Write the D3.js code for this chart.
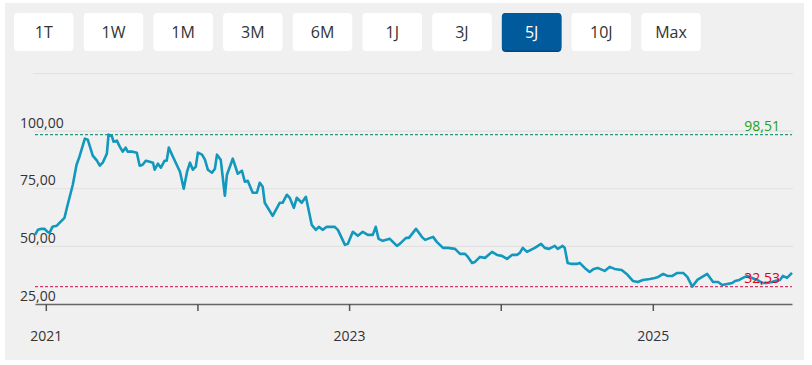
<!DOCTYPE html>
<html>
<head>
<meta charset="utf-8">
<script src="https://cdn.jsdelivr.net/npm/d3@7"></script>
<style>
  body { margin: 0; background: #ffffff; }
  svg { display: block; font-family: "Open Sans", sans-serif; }
</style>
</head>
<body>
<div id="chart"></div>
<script>
// range selector buttons
const rangeButtons = ['1T', '1W', '1M', '3M', '6M', '1J', '3J', '5J', '10J', 'Max'];
const activeButton = '5J';

// price series (weekly-ish samples)
const dates = [
  '2020-12-06', '2020-12-13', '2020-12-22', '2020-12-29', '2021-01-05', '2021-01-10', '2021-01-17', '2021-01-27', '2021-02-03', '2021-02-15',
  '2021-02-22', '2021-03-07', '2021-03-16', '2021-03-23', '2021-04-05', '2021-04-12', '2021-04-24', '2021-05-04', '2021-05-11', '2021-05-18',
  '2021-05-28', '2021-06-01', '2021-06-09', '2021-06-13', '2021-06-21', '2021-06-28', '2021-07-05', '2021-07-12', '2021-07-17', '2021-07-29',
  '2021-08-08', '2021-08-15', '2021-08-22', '2021-08-30', '2021-09-08', '2021-09-16', '2021-09-20', '2021-09-28', '2021-10-05', '2021-10-14',
  '2021-10-19', '2021-10-24', '2021-11-03', '2021-11-12', '2021-11-20', '2021-11-29', '2021-12-07', '2021-12-14', '2021-12-21', '2021-12-28',
  '2022-01-02', '2022-01-12', '2022-01-19', '2022-01-26', '2022-02-05', '2022-02-12', '2022-02-17', '2022-02-26', '2022-03-08', '2022-03-13',
  '2022-03-27', '2022-04-08', '2022-04-18', '2022-04-25', '2022-05-02', '2022-05-14', '2022-05-24', '2022-05-31', '2022-06-07', '2022-06-12',
  '2022-07-01', '2022-07-18', '2022-07-25', '2022-08-04', '2022-08-11', '2022-08-21', '2022-08-28', '2022-09-09', '2022-09-19', '2022-10-03',
  '2022-10-13', '2022-10-20', '2022-10-30', '2022-11-08', '2022-11-27', '2022-12-05', '2022-12-22', '2022-12-29', '2023-01-10', '2023-01-22',
  '2023-02-03', '2023-02-15', '2023-02-27', '2023-03-06', '2023-03-13', '2023-03-23', '2023-04-09', '2023-04-26', '2023-05-03', '2023-05-18',
  '2023-05-25', '2023-06-11', '2023-06-25', '2023-07-03', '2023-07-22', '2023-07-31', '2023-08-15', '2023-08-27', '2023-09-13', '2023-09-25',
  '2023-10-07', '2023-10-14', '2023-10-24', '2023-10-31', '2023-11-12', '2023-11-24', '2023-12-11', '2023-12-23', '2024-01-04', '2024-01-16',
  '2024-01-28', '2024-02-09', '2024-02-16', '2024-02-23', '2024-03-04', '2024-03-23', '2024-04-07', '2024-04-16', '2024-04-26', '2024-05-10',
  '2024-05-17', '2024-05-29', '2024-06-03', '2024-06-10', '2024-06-20', '2024-07-02', '2024-07-09', '2024-07-21', '2024-08-02', '2024-08-12',
  '2024-08-21', '2024-09-07', '2024-09-19', '2024-10-01', '2024-10-18', '2024-10-30', '2024-11-14', '2024-11-26', '2024-12-08', '2024-12-25',
  '2025-01-06', '2025-01-14', '2025-01-26', '2025-02-05', '2025-02-17', '2025-03-01', '2025-03-15', '2025-03-25', '2025-04-06', '2025-04-18',
  '2025-04-30', '2025-05-12', '2025-05-19', '2025-05-26', '2025-06-07', '2025-06-17', '2025-06-29', '2025-07-11', '2025-07-18', '2025-07-28',
  '2025-08-06', '2025-08-16', '2025-08-28', '2025-09-09', '2025-09-21', '2025-10-03', '2025-10-15', '2025-10-22', '2025-11-03', '2025-11-10',
  '2025-11-20', '2025-12-02'
];
const prices = [
  55.00, 57.17, 57.61, 57.61, 56.30, 55.87, 58.48, 58.91, 60.22, 62.39,
  67.61, 76.74, 85.43, 88.91, 96.74, 96.30, 89.35, 87.17, 85.00, 86.30,
  90.22, 98.51, 97.80, 95.43, 95.87, 93.26, 91.09, 92.83, 91.09, 91.09,
  90.65, 85.00, 85.43, 87.17, 86.74, 86.30, 83.26, 85.87, 84.13, 87.17,
  87.17, 92.83, 88.91, 85.43, 82.39, 75.00, 82.39, 86.30, 83.26, 84.57,
  90.65, 89.78, 87.61, 83.26, 81.96, 83.70, 89.78, 87.61, 71.96, 81.09,
  88.04, 81.52, 82.83, 78.04, 78.48, 73.26, 73.26, 77.61, 75.87, 68.91,
  63.26, 68.91, 68.91, 72.39, 71.09, 66.74, 71.09, 68.91, 71.52, 59.35,
  57.17, 58.48, 57.17, 58.48, 58.48, 57.17, 50.65, 51.09, 56.30, 54.57,
  56.30, 55.00, 55.00, 58.48, 53.26, 52.39, 53.26, 50.22, 51.09, 53.70,
  53.70, 57.61, 54.13, 52.83, 54.13, 51.96, 49.35, 49.35, 48.91, 46.74,
  46.74, 45.43, 42.83, 43.26, 45.43, 45.00, 47.61, 46.30, 45.87, 44.57,
  46.30, 46.30, 47.17, 49.35, 47.61, 49.35, 51.09, 49.35, 48.91, 50.22,
  48.91, 50.22, 49.35, 42.83, 42.39, 42.39, 42.83, 40.65, 38.91, 40.22,
  40.65, 39.35, 41.09, 40.22, 39.78, 38.04, 35.00, 34.57, 35.43, 35.87,
  36.30, 36.74, 38.04, 37.17, 37.17, 38.48, 38.48, 36.74, 32.53, 35.43,
  36.74, 38.04, 36.30, 34.57, 34.57, 33.26, 33.70, 34.13, 35.00, 35.43,
  36.30, 37.17, 36.30, 35.43, 34.13, 34.13, 34.57, 35.00, 35.43, 37.17,
  36.30, 38.48
];

// axis ticks
const yGridValues = [50, 75, 100, 125];
const yLabelValues = [25, 50, 75, 100];
const xTickYears = [2021, 2022, 2023, 2024, 2025];
const xLabelYears = [2021, 2023, 2025];

// period high / low markers
const highValue = 98.51;
const lowValue = 32.53;

const width = 812;
const height = 365;
const marginLeft = 35;
const marginRight = 20; // 812 - 792
const plotTop = 73.5;
const plotBottom = 304;

const de = d3.formatLocale({ decimal: ',', thousands: '.', grouping: [3], currency: ['', ' €'] });
const fmt = de.format('.2f');

const parseDate = d3.utcParse('%Y-%m-%d');
const data = dates.map((d, i) => ({ date: parseDate(d), value: prices[i] }));

const xScale = d3.scaleUtc(d3.extent(data, (d) => d.date), [marginLeft, width - marginRight]);
const yScale = d3.scaleLinear([25, 125], [plotBottom, plotTop]);

const svg = d3
  .select('#chart')
  .append('svg')
  .attr('width', width)
  .attr('height', height);

// panel background
svg.append('rect')
  .attr('x', 5)
  .attr('y', 3)
  .attr('width', 799)
  .attr('height', 357)
  .attr('fill', '#f0f0f0');

// range buttons
const btnStep = 69.7;
const btn = svg
  .append('g')
  .selectAll('g')
  .data(rangeButtons)
  .join('g')
  .attr('transform', (d, i) => `translate(${14 + i * btnStep},13)`);

btn.filter((d) => d === activeButton)
  .append('rect')
  .attr('width', 59.5)
  .attr('height', 39)
  .attr('rx', 4)
  .attr('fill', '#00477f');

btn.append('rect')
  .attr('width', 59.5)
  .attr('height', (d) => (d === activeButton ? 37.5 : 38))
  .attr('rx', 4)
  .attr('fill', (d) => (d === activeButton ? '#005a9c' : '#ffffff'));

btn.append('text')
  .attr('x', 29.75)
  .attr('y', 24.5)
  .attr('text-anchor', 'middle')
  .attr('font-size', 16)
  .attr('fill', (d) => (d === activeButton ? '#ffffff' : '#333333'))
  .text((d) => d);

// horizontal grid
svg.append('g')
  .selectAll('line')
  .data(yGridValues)
  .join('line')
  .attr('x1', 33)
  .attr('x2', 793)
  .attr('y1', (d) => yScale(d))
  .attr('y2', (d) => yScale(d))
  .attr('stroke', '#e1e1e1')
  .attr('stroke-width', 1.2);

// y labels sit above their grid line
svg.append('g')
  .selectAll('text')
  .data(yLabelValues)
  .join('text')
  .attr('x', 20)
  .attr('y', (d) => yScale(d) - 3.5)
  .attr('font-size', 14)
  .attr('fill', '#333333')
  .text((d) => fmt(d));

// x axis
const xAxis = d3
  .axisBottom(xScale)
  .tickValues(xTickYears.map((y) => new Date(Date.UTC(y, 0, 1))))
  .tickFormat((d) => (xLabelYears.includes(d.getUTCFullYear()) ? d.getUTCFullYear() : ''))
  .tickSize(7)
  .tickSizeOuter(0)
  .tickPadding(20);

svg.append('g')
  .attr('transform', `translate(0,${plotBottom})`)
  .call(xAxis)
  .call((g) => g.select('.domain').attr('stroke', '#666666').attr('stroke-width', 1.6))
  .call((g) => g.selectAll('.tick line').attr('stroke', '#555555').attr('stroke-width', 1.5))
  .call((g) =>
    g.selectAll('.tick text')
      .attr('font-family', '"Open Sans", sans-serif')
      .attr('font-size', 14)
      .attr('fill', '#333333')
  );

// high / low reference lines
const refs = [
  { value: highValue, line: '#27997f', text: '#22a022' },
  { value: lowValue, line: '#cf3b68', text: '#e3001b' },
];

svg.append('g')
  .selectAll('line')
  .data(refs)
  .join('line')
  .attr('x1', marginLeft)
  .attr('x2', 792)
  .attr('y1', (d) => yScale(d.value))
  .attr('y2', (d) => yScale(d.value))
  .attr('stroke', (d) => d.line)
  .attr('stroke-width', 1.2)
  .attr('stroke-dasharray', '3,2');

// price line
const line = d3
  .line()
  .x((d) => xScale(d.date))
  .y((d) => yScale(d.value));

svg.append('path')
  .datum(data)
  .attr('fill', 'none')
  .attr('stroke', '#1297bd')
  .attr('stroke-width', 2.6)
  .attr('stroke-linejoin', 'round')
  .attr('d', line);

svg.append('g')
  .selectAll('text')
  .data(refs)
  .join('text')
  .attr('x', 780)
  .attr('y', (d) => yScale(d.value) - 3.5)
  .attr('text-anchor', 'end')
  .attr('font-size', 14)
  .attr('fill', (d) => d.text)
  .text((d) => fmt(d.value));
</script>
</body>
</html>
